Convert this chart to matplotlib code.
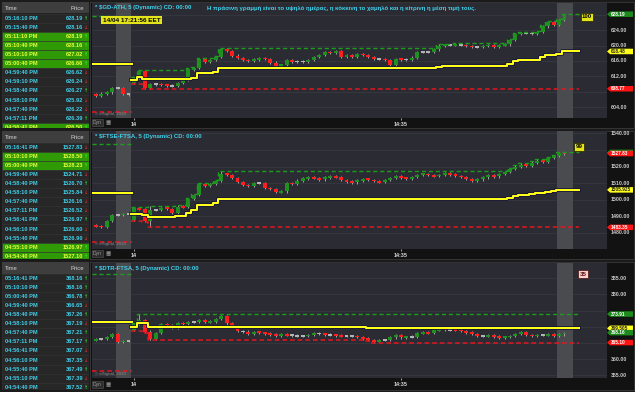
import matplotlib
matplotlib.use("Agg")
import matplotlib.pyplot as plt
import matplotlib.patheffects as pe
from matplotlib.patches import Rectangle, Polygon
import numpy as np

plt.rcParams['font.family'] = ['Liberation Sans', 'DejaVu Sans']

# ---- data ----
# $GD-ATH
gd_prev_open = 607.3
gd_prev_close = [606.9, 607.5, 607.8, 609.0, 609.05, 607.4, 607.3]
gd_prev_high, gd_prev_low = 627.7, 602.8
gd_open = 610.3
gd_close = [611.6, 613.3, 609.07, 609.9, 610.0, 609.8, 609.6, 609.55, 610.3, 611.1,
            613.8, 614.2, 616.5, 615.8, 616.2, 617.0, 619.1, 618.6, 617.4, 616.7,
            616.2, 616.0, 616.4, 616.8, 616.5, 615.6, 614.8, 615.0, 616.2, 615.9,
            615.85, 615.9, 616.2, 617.1, 617.6, 618.3, 618.1, 618.6, 617.1, 617.4,
            617.1, 617.8, 617.6, 617.1, 616.5, 616.6, 616.2, 615.0, 616.6, 616.4,
            616.35, 616.9, 618.3, 618.35, 618.3, 619.0, 620.0, 620.2, 620.15, 620.3,
            620.2, 619.9, 619.6, 619.65, 619.9, 620.2, 619.8, 620.1, 620.3, 621.5,
            623.0, 623.3, 623.2, 623.1, 623.5, 625.0, 626.2, 625.5, 626.6, 628.19]
gd_special = {2: (None, 608.77), 79: (628.19, None)}
gd_ticks = [604, 608, 612, 616, 620, 624, 628]

# $FTSE-FTSA
ft_prev_open = 1484.6
ft_prev_close = [1484.1, 1483.6, 1487.2, 1490.6, 1490.8, 1491.4, 1491.2]
ft_prev_high, ft_prev_low = 1533.7, 1474.5
ft_open = 1488.0
ft_close = [1494.8, 1494.4, 1487.2, 1493.8, 1493.9, 1495.0, 1494.6, 1492.0, 1495.9, 1495.6,
            1500.5, 1503.0, 1509.5, 1508.4, 1509.4, 1511.4, 1515.5, 1515.0, 1513.0, 1510.5,
            1508.7, 1508.4, 1510.0, 1510.2, 1507.0, 1506.4, 1504.6, 1505.0, 1510.0, 1509.6,
            1511.5, 1512.8, 1513.6, 1512.9, 1512.2, 1513.4, 1514.2, 1513.6, 1512.0, 1511.0,
            1510.4, 1511.6, 1512.6, 1512.0, 1511.2, 1510.6, 1511.8, 1513.0, 1514.0, 1513.2,
            1512.6, 1513.8, 1514.9, 1515.6, 1514.8, 1514.2, 1515.0, 1515.8, 1515.2, 1514.4,
            1513.5, 1512.4, 1511.6, 1512.2, 1513.4, 1514.6, 1514.0, 1515.4, 1516.6, 1518.4,
            1520.0, 1521.2, 1520.6, 1522.4, 1523.6, 1523.0, 1525.2, 1526.5, 1528.3, 1527.83]
ft_special = {3: (1496.4, 1483.35), 16: (1517.5, None), 78: (1528.5, None), 79: (1528.5, None)}
ft_ticks = [1480, 1490, 1500, 1510, 1520, 1530, 1540]

# $DTR-FTSA
dt_prev_open = 365.8
dt_prev_close = [366.2, 366.25, 366.8, 367.8, 365.3, 365.6, 365.65]
dt_prev_high, dt_prev_low = 386.3, 356.3
dt_open = 369.0
dt_close = [370.8, 372.0, 368.5, 366.1, 368.0, 370.8, 370.5, 369.5, 371.2, 370.8,
            371.4, 371.5, 372.1, 371.4, 371.6, 372.3, 373.2, 371.0, 370.3, 368.6,
            368.5, 367.7, 368.4, 368.1, 367.9, 367.6, 367.2, 367.6, 367.4, 367.3,
            367.2, 367.1, 367.5, 367.9, 367.85, 367.6, 367.5, 367.3, 367.1, 367.05,
            367.1, 366.8, 366.4, 365.9, 365.5, 365.9, 365.95, 366.7, 367.4, 366.7,
            366.9, 366.95, 368.0, 368.2, 368.0, 368.9, 369.3, 369.1, 369.05, 368.9,
            368.7, 368.2, 367.7, 367.1, 367.15, 367.3, 367.0, 366.6, 366.8, 367.2,
            367.7, 368.3, 367.4, 367.2, 367.4, 367.45, 367.6, 367.1, 367.6, 368.16]
dt_special = {1: (373.91, None), 44: (None, 365.10)}
dt_ticks = [355, 360, 365, 370, 375, 380, 385]

x_tick_pos = [0, 49]
x_tick_lab = ['14', '14:35']

# time & sales tables
t1_times = ['05:16:10 PM', '05:15:40 PM', '05:11:10 PM', '05:10:40 PM', '05:10:10 PM', '05:00:40 PM',
            '04:59:40 PM', '04:59:10 PM', '04:58:40 PM', '04:58:10 PM', '04:57:40 PM', '04:57:11 PM', '04:56:41 PM']
t1_prices = ['628.19', '628.16', '628.19', '628.16', '627.02', '626.66', '626.62', '626.24', '626.27',
             '625.92', '626.22', '626.39', '626.50']
t1_dirs = [1, -1, 1, 1, 1, 1, -1, -1, 1, -1, -1, 1, 1]
t1_green = [0, 0, 1, 1, 1, 1, 0, 0, 0, 0, 0, 0, 1]

t2_times = ['05:16:41 PM', '05:10:10 PM', '05:00:40 PM', '04:59:40 PM', '04:58:40 PM', '04:58:10 PM',
            '04:57:40 PM', '04:57:11 PM', '04:56:41 PM', '04:56:10 PM', '04:55:40 PM', '04:55:10 PM', '04:54:40 PM']
t2_prices = ['1527.83', '1528.50', '1528.23', '1524.71', '1526.70', '1525.84', '1526.16', '1526.52',
             '1526.97', '1526.60', '1526.90', '1526.97', '1527.10']
t2_dirs = [-1, 1, 1, -1, 1, -1, -1, -1, 1, -1, -1, 1, 1]
t2_green = [0, 1, 1, 0, 0, 0, 0, 0, 0, 0, 0, 1, 1]

t3_times = ['05:16:41 PM', '05:10:10 PM', '05:00:40 PM', '04:59:40 PM', '04:58:40 PM', '04:58:10 PM',
            '04:57:40 PM', '04:57:11 PM', '04:56:41 PM', '04:56:10 PM', '04:55:40 PM', '04:55:10 PM', '04:54:40 PM']
t3_prices = ['368.16', '368.16', '366.78', '366.65', '367.26', '367.19', '367.21', '367.17', '367.07',
             '367.35', '367.49', '367.39', '367.52']
t3_dirs = [1, 1, 1, -1, 1, -1, 1, 1, -1, -1, 1, -1, 1]
t3_green = [0] * 13

note = 'Η πράσινη γραμμή είναι το υψηλό ημέρας, η κόκκινη το χαμηλό και η κίτρινη η μέση τιμή τους.'

# ---- drawing ----
W, H = 640, 394
fig = plt.figure(figsize=(6.4, 3.94), dpi=100, facecolor='white')

CYAN = '#3fd0ea'
GREEN = '#1f8f1f'
RED = '#ff1e1e'
DOJI = '#b4b4b4'
GDASH = '#1c9c1c'
RDASH = '#e8141e'
YEL = '#ffff1a'


def px_axes(x0, y0, x1, y1, **kw):
    return fig.add_axes([x0 / W, 1 - y1 / H, (x1 - x0) / W, (y1 - y0) / H], **kw)


def fig_text(x, y, s, **kw):
    return fig.text(x / W, 1 - y / H, s, **kw)


def fmt_price(v):
    s = f'{v:.3f}'
    return s[:-1] if s.endswith('0') else s


bg = px_axes(0, 0, 635, 392)
bg.set_facecolor('#1b1b1b')
bg.set_xticks([])
bg.set_yticks([])
for s in bg.spines.values():
    s.set_visible(False)


def draw_table(top, bot, times, prices, dirs, green):
    h = bot - top
    ax = px_axes(2, top, 89, bot)
    ax.set_xlim(0, 87)
    ax.set_ylim(h, 0)
    ax.axis('off')
    ax.add_patch(Rectangle((0, 0), 87, h, fc='#222222', ec='none'))
    ax.add_patch(Rectangle((0, 0), 87, 11.5, fc='#3e3e3e', ec='none'))
    ax.text(3, 6.3, 'Time', color='#d4d4d4', fontsize=4.2, va='center')
    ax.text(82, 6.3, 'Price', color='#d4d4d4', fontsize=4.2, va='center', ha='right')
    for k in range(len(times)):
        yc = 16.3 + k * 9.08
        fc = '#2f9a05' if green[k] else '#272727'
        tc = '#e8ff3a' if green[k] else CYAN
        ax.add_patch(Rectangle((0, yc - 4.54), 87, 9.08, fc=fc, ec='#353535', lw=0.4, clip_on=True))
        ax.text(3, yc, times[k], color=tc, fontsize=4.1, fontweight='bold', va='center', clip_on=True)
        ax.text(81, yc, prices[k], color=tc, fontsize=4.1, fontweight='bold', va='center', ha='right',
                clip_on=True)
        ax.text(84, yc, '↑' if dirs[k] > 0 else '↓', color='#3cff3c' if dirs[k] > 0 else '#ff3030',
                fontsize=3.6, va='center', ha='center', family='DejaVu Sans', clip_on=True)


def draw_chart(top, bot, ptop, pbot, ylo, yhi, ticks, prev_open, prev_close, prev_hi, prev_lo,
               day_open, close, special, wick, badges, title):
    frame = px_axes(90, top, 634, bot)
    frame.set_facecolor('#121212')
    frame.set_xticks([])
    frame.set_yticks([])
    for s in frame.spines.values():
        s.set_color('#3a3a3a')
        s.set_linewidth(0.6)

    ax = px_axes(92, ptop, 607, pbot)
    ax.set_facecolor('#2b2c33')
    ax.set_xlim(-7.7, 86.8)
    ax.set_ylim(ylo, yhi)
    for s in ax.spines.values():
        s.set_visible(False)
    ax.set_yticks([])
    ax.set_xticks(x_tick_pos)
    ax.set_xticklabels(x_tick_lab)
    ax.tick_params(axis='x', colors='#d8d8d8', labelsize=3.9, length=1.5, pad=1.5, width=0.5)
    for lab in ax.get_xticklabels():
        lab.set_fontweight('bold')
    for t in ticks:
        ax.axhline(t, color='#393a42', lw=0.5, zorder=0.5)
    ax.axvspan(-3.3, -0.55, color='#4a4b4f', zorder=0.8, lw=0)
    ax.axvspan(77.6, 80.6, color='#4a4b4f', zorder=0.8, lw=0)

    pxu = (yhi - ylo) / (pbot - ptop)
    # candles: previous session + today
    sessions = [(np.arange(-len(prev_close), 0), prev_open, np.array(prev_close), {}),
                (np.arange(len(close)), day_open, np.array(close), special)]
    for xs, o0, cs, spec in sessions:
        opens = np.concatenate([[o0], cs[:-1]])
        highs = np.maximum(opens, cs) + wick
        lows = np.minimum(opens, cs) - wick
        for i, (hv, lv) in spec.items():
            if hv is not None:
                highs[i] = hv
            if lv is not None:
                lows[i] = lv
        diff = cs - opens
        cols = np.where(np.abs(diff) < 0.4 * pxu, DOJI, np.where(diff > 0, GREEN, RED))
        ax.vlines(xs, lows, highs, colors='#a4a4a4', lw=0.7, zorder=2)
        h = np.maximum(np.abs(diff), 1.8 * pxu)
        b = (opens + cs) / 2 - h / 2
        ax.bar(xs, h, bottom=b, width=0.72, color=cols, zorder=3, lw=0)
        if spec is special:
            day_hi = np.maximum.accumulate(highs)
            day_lo = np.minimum.accumulate(lows)

    # previous session levels
    pxr = [-7.7, -0.3]
    ax.plot(pxr, [prev_hi, prev_hi], color=GDASH, lw=1.0, dashes=(3, 2), zorder=4)
    ax.plot(pxr, [prev_lo, prev_lo], color=RDASH, lw=1.1, dashes=(3, 2), zorder=4)
    pm = (prev_hi + prev_lo) / 2
    ax.plot(pxr, [pm, pm], color=YEL, lw=1.5, zorder=4,
            path_effects=[pe.withStroke(linewidth=2.6, foreground='#0c0c3a')])

    # today's running high / low / mid
    xe = np.r_[np.arange(len(close)) - 0.5, 81.6]
    ax.step(xe, np.r_[day_hi, day_hi[-1]], where='post', color=GDASH, lw=1.0, dashes=(3, 2), zorder=4)
    ax.step(xe, np.r_[day_lo, day_lo[-1]], where='post', color=RDASH, lw=1.1, dashes=(3, 2), zorder=4)
    mid = (day_hi + day_lo) / 2
    ax.step(xe, np.r_[mid, mid[-1]], where='post', color=YEL, lw=1.5, zorder=4,
            path_effects=[pe.withStroke(linewidth=2.6, foreground='#0c0c3a')])

    # right price axis with level badges
    rax = px_axes(607, ptop, 633, pbot)
    rax.set_facecolor('#121212')
    rax.set_xlim(0, 1)
    rax.set_ylim(ylo, yhi)
    rax.axis('off')
    levels = {'hi': day_hi[-1], 'lo': day_lo[-1], 'mid': mid[-1], 'last': close[-1]}
    bvals = [levels[b[0]] for b in badges]
    bh = 5.5 * pxu
    for t in ticks:
        if min(abs(t - v) for v in bvals) < 0.9 * bh:
            continue  # hidden under a badge
        rax.text(0.14, t, f'{t:.2f}', color='#c8c8c8', fontsize=3.8, fontweight='bold', va='center')
    for (kind, fc, tc, show), v in zip(badges, bvals):
        rax.add_patch(Polygon([(0, v), (0.12, v + bh / 2), (1, v + bh / 2), (1, v - bh / 2),
                               (0.12, v - bh / 2)], closed=True, fc=fc, ec='none', zorder=5))
        if show:
            rax.text(0.14, v, fmt_price(v), color=tc, fontsize=3.4, fontweight='bold', va='center',
                     zorder=6)

    fig_text(95, ptop + 5.5 if top > 5 else 8, title, color=CYAN, fontsize=4.35, fontweight='bold',
             va='center')
    fig_text(95, pbot - 4, '© eSignal, 2020', color='#8c8c8c', fontsize=3.2, va='center')
    fig_text(93, bot - 5.5, 'Dyn', color='#9a9a9a', fontsize=3.6, va='center',
             bbox=dict(boxstyle='square,pad=0.15', fc='#2c2c2c', ec='#555555', lw=0.4))
    fig_text(105.5, bot - 5.5, '▦', color='#9a9a9a', fontsize=4, va='center', family='DejaVu Sans')


draw_table(2, 128, t1_times, t1_prices, t1_dirs, t1_green)
draw_table(131, 259, t2_times, t2_prices, t2_dirs, t2_green)
draw_table(262, 390, t3_times, t3_prices, t3_dirs, t3_green)

draw_chart(2, 128, 3, 118, 601.15, 631.1, gd_ticks, gd_prev_open, gd_prev_close, gd_prev_high, gd_prev_low,
           gd_open, gd_close, gd_special, 0.3,
           [('last', '#1d8a1d', 'white', True), ('mid', '#ffff1a', '#222222', True),
            ('lo', '#ff1414', 'white', True)],
           '* $GD-ATH, 5 (Dynamic) CD: 00:00')
draw_chart(131, 259, 131, 248.5, 1470.6, 1541.4, ft_ticks, ft_prev_open, ft_prev_close, ft_prev_high,
           ft_prev_low, ft_open, ft_close, ft_special, 0.7,
           [('hi', '#1d8a1d', 'white', False), ('last', '#ff1414', 'white', True),
            ('mid', '#ffff1a', '#222222', True), ('lo', '#ff1414', 'white', True)],
           '* $FTSE-FTSA, 5 (Dynamic) CD: 00:00')
draw_chart(262, 390, 263, 378, 354.17, 389.66, dt_ticks, dt_prev_open, dt_prev_close, dt_prev_high,
           dt_prev_low, dt_open, dt_close, dt_special, 0.35,
           [('hi', '#1d8a1d', 'white', True), ('mid', '#ffff1a', '#222222', True),
            ('last', '#1d8a1d', 'white', True), ('lo', '#ff1414', 'white', True)],
           '* $DTR-FTSA, 5 (Dynamic) CD: 00:00')

# overlays on the first chart
fig_text(207, 8, note, color=CYAN, fontsize=4.35, fontweight='bold', va='center')
fig_text(131.5, 20, '14/04 17:21:56 EET', color='black', fontsize=4.6, fontweight='bold', va='center',
         ha='center', bbox=dict(boxstyle='square,pad=0.2', fc='#e4e41a', ec='none'))
fig_text(587, 17, '100', color='black', fontsize=4.4, fontweight='bold', va='center', ha='center',
         bbox=dict(boxstyle='square,pad=0.2', fc='#e4e41a', ec='#333300', lw=0.6))
fig_text(579, 147, '99', color='black', fontsize=4.4, fontweight='bold', va='center', ha='center',
         bbox=dict(boxstyle='square,pad=0.2', fc='#e4e41a', ec='#333300', lw=0.6))
fig_text(583, 274, '35', color='#5a1010', fontsize=4.4, fontweight='bold', va='center', ha='center',
         bbox=dict(boxstyle='square,pad=0.2', fc='#ffd0d0', ec='#552222', lw=0.6))

fig.savefig('out.png', dpi=100, facecolor=fig.get_facecolor())
